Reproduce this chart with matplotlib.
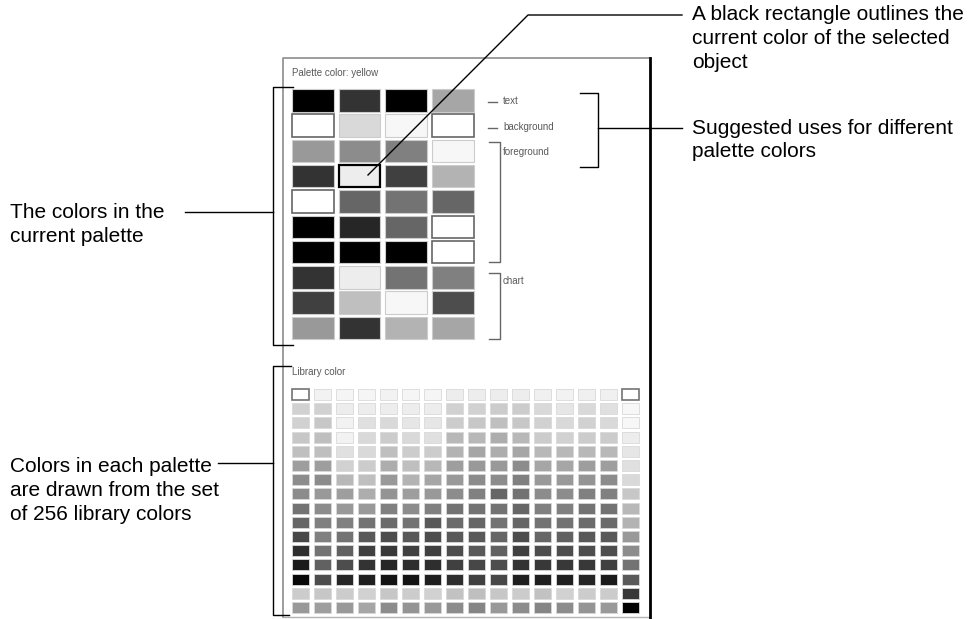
import matplotlib.pyplot as plt
from matplotlib.patches import Rectangle

plt.rcParams['font.family'] = ['Liberation Sans', 'DejaVu Sans']

# palette colours (grey level, 0 = black, 1 = white), 10 rows x 4 columns
palette_rows = [
    [0.00, 0.20, 0.00, 0.65],
    [1.00, 0.85, 0.97, 1.00],
    [0.60, 0.55, 0.50, 0.97],
    [0.20, 0.93, 0.25, 0.70],
    [1.00, 0.40, 0.45, 0.40],
    [0.00, 0.15, 0.40, 1.00],
    [0.00, 0.00, 0.00, 1.00],
    [0.20, 0.93, 0.45, 0.50],
    [0.25, 0.75, 0.97, 0.30],
    [0.60, 0.20, 0.70, 0.65],
]
palette_outlined = [(1, 0), (1, 3), (4, 0), (5, 3), (6, 3)]
palette_selected = (3, 1)
palette_uses = ["text", "background", "foreground", "chart"]

# library colours, 16 rows x 16 columns
library_rows = [
    [1.00, 0.95, 0.96, 0.96, 0.95, 0.96, 0.96, 0.93, 0.93, 0.93, 0.93, 0.94, 0.95, 0.94, 0.94, 1.00],
    [0.82, 0.82, 0.93, 0.93, 0.93, 0.93, 0.93, 0.82, 0.82, 0.80, 0.80, 0.85, 0.90, 0.85, 0.88, 0.97],
    [0.82, 0.78, 0.95, 0.88, 0.85, 0.90, 0.90, 0.80, 0.78, 0.75, 0.78, 0.82, 0.85, 0.82, 0.85, 0.97],
    [0.78, 0.75, 0.95, 0.85, 0.80, 0.85, 0.88, 0.72, 0.72, 0.68, 0.72, 0.80, 0.82, 0.80, 0.80, 0.93],
    [0.75, 0.75, 0.88, 0.85, 0.75, 0.80, 0.80, 0.70, 0.65, 0.68, 0.65, 0.72, 0.72, 0.72, 0.72, 0.90],
    [0.62, 0.62, 0.82, 0.80, 0.68, 0.75, 0.72, 0.62, 0.60, 0.60, 0.55, 0.65, 0.65, 0.62, 0.62, 0.88],
    [0.55, 0.55, 0.72, 0.75, 0.60, 0.70, 0.65, 0.60, 0.55, 0.55, 0.50, 0.60, 0.60, 0.58, 0.55, 0.85],
    [0.55, 0.60, 0.62, 0.68, 0.58, 0.62, 0.60, 0.55, 0.50, 0.40, 0.45, 0.55, 0.55, 0.50, 0.50, 0.78],
    [0.45, 0.55, 0.60, 0.60, 0.50, 0.55, 0.50, 0.45, 0.45, 0.45, 0.40, 0.50, 0.50, 0.45, 0.45, 0.72],
    [0.40, 0.50, 0.50, 0.45, 0.42, 0.45, 0.35, 0.42, 0.40, 0.45, 0.40, 0.45, 0.45, 0.42, 0.42, 0.70],
    [0.28, 0.50, 0.45, 0.35, 0.30, 0.35, 0.30, 0.35, 0.35, 0.40, 0.30, 0.40, 0.38, 0.35, 0.35, 0.60],
    [0.18, 0.45, 0.38, 0.25, 0.22, 0.25, 0.25, 0.30, 0.35, 0.38, 0.25, 0.30, 0.30, 0.30, 0.30, 0.55],
    [0.10, 0.38, 0.30, 0.20, 0.15, 0.18, 0.18, 0.25, 0.28, 0.30, 0.20, 0.22, 0.22, 0.22, 0.25, 0.45],
    [0.03, 0.30, 0.15, 0.12, 0.08, 0.08, 0.12, 0.18, 0.25, 0.28, 0.12, 0.12, 0.12, 0.15, 0.10, 0.35],
    [0.80, 0.78, 0.80, 0.82, 0.78, 0.80, 0.82, 0.76, 0.75, 0.78, 0.80, 0.76, 0.82, 0.80, 0.80, 0.22],
    [0.60, 0.62, 0.60, 0.65, 0.55, 0.58, 0.60, 0.55, 0.52, 0.60, 0.55, 0.52, 0.55, 0.58, 0.60, 0.00],
]
library_outlined = [(0, 0), (0, 15)]

callouts = {
    "palette": ["The colors in the", "current palette"],
    "library": ["Colors in each palette", "are drawn from the set", "of 256 library colors"],
    "selected": ["A black rectangle outlines the", "current color of the selected", "object"],
    "uses": ["Suggested uses for different", "palette colors"],
}

fig = plt.figure(figsize=(9.75, 6.19), dpi=100)
ax = fig.add_axes([0, 0, 1, 1])
ax.set_xlim(0, 975)
ax.set_ylim(619, 0)
ax.axis('off')

# dialog panel
ax.add_patch(Rectangle((283, 58), 367, 559, facecolor='white', edgecolor='none'))
ax.plot([283, 283, 650], [617, 58, 58], color='0.55', lw=1.2)
ax.plot([283, 650], [617, 617], color='0.7', lw=1)
ax.plot([650, 650], [58, 619], color='black', lw=2)

small = dict(fontsize=7, color='0.35', va='center', ha='left')
ax.text(292, 73, "Palette color: yellow", **small)
ax.text(292, 372, "Library color", **small)

# palette cells
for r, row in enumerate(palette_rows):
    for c, g in enumerate(row):
        x = 292 + c * 46.7
        y = 89 + r * 25.3
        ec = '0.8'
        lw = 0.8
        if (r, c) in palette_outlined:
            ec, lw = '0.4', 1.2
        if (r, c) == palette_selected:
            ec, lw = 'black', 1.6
        ax.add_patch(Rectangle((x, y), 41.5, 22.5, facecolor=str(g),
                               edgecolor=ec, lw=lw))

# library cells
for r, row in enumerate(library_rows):
    for c, g in enumerate(row):
        x = 292 + c * 22
        y = 389 + r * 14.2
        ec, lw = '0.85', 0.6
        if (r, c) in library_outlined:
            ec, lw = '0.45', 1.2
        ax.add_patch(Rectangle((x, y), 17, 11, facecolor=str(g),
                               edgecolor=ec, lw=lw))

# palette use labels (grey, inside panel)
gk = dict(color='0.4', lw=1)
ax.plot([488, 497], [102, 102], **gk)
ax.plot([488, 497], [128, 128], **gk)
ax.plot([489, 500, 500, 489], [142, 142, 262, 262], **gk)
ax.plot([489, 500, 500, 489], [273, 273, 339, 339], **gk)
for lab, y in zip(palette_uses, [101, 127, 152, 281]):
    ax.text(503, y, lab, **small)

# black callout brackets and leaders
bk = dict(color='black', lw=1)
ax.plot([293, 273, 273, 293], [87, 87, 345, 345], **bk)
ax.plot([185, 273], [212, 212], **bk)
ax.plot([291, 273, 273, 289], [366, 366, 615, 615], **bk)
ax.plot([218, 273], [463, 463], **bk)
ax.plot([580, 598, 598, 580], [93, 93, 167, 167], **bk)
ax.plot([598, 682], [128, 128], **bk)
ax.plot([368, 528, 682], [175, 15, 15], **bk)

big = dict(fontsize=15, color='black', va='center', ha='left')
for i, s in enumerate(callouts["palette"]):
    ax.text(10, 213 + 24 * i, s, **big)
for i, s in enumerate(callouts["library"]):
    ax.text(10, 466 + 24.5 * i, s, **big)
for i, s in enumerate(callouts["selected"]):
    ax.text(692, 15 + 23.5 * i, s, **big)
for i, s in enumerate(callouts["uses"]):
    ax.text(692, 128 + 23.5 * i, s, **big)

fig.savefig("out.png", dpi=100)
